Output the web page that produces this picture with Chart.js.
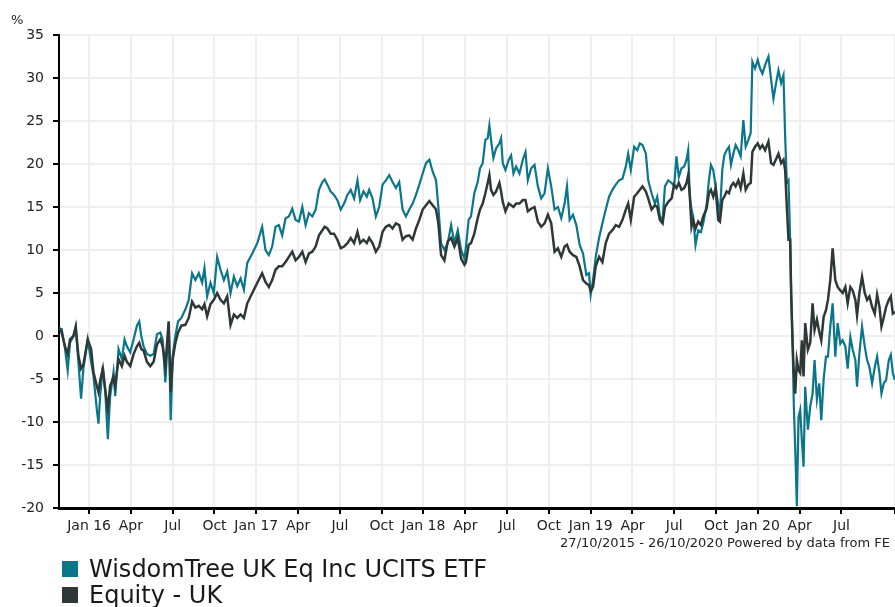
<!DOCTYPE html>
<html>
<head>
<meta charset="utf-8">
<title>WisdomTree UK Eq Inc UCITS ETF vs Equity - UK</title>
<script src="https://cdn.jsdelivr.net/npm/chart.js@4/dist/chart.umd.min.js"></script>
<style>
    html, body { margin: 0; padding: 0; background: #fff; }
    #wrap { width: 895px; height: 607px; }
</style>
</head>
<body>
<div id="wrap"><canvas id="perf-chart" width="895" height="607"></canvas></div>
<script>
// ===== Data (x = decimal year, y = cumulative % return) =====
const dates = [
    2015.820, 2015.836, 2015.856, 2015.872, 2015.886, 2015.906, 2015.920, 2015.936, 2015.952, 2015.966,
    2015.992, 2016.012, 2016.026, 2016.046, 2016.056, 2016.066, 2016.082, 2016.096, 2016.112, 2016.126,
    2016.146, 2016.156, 2016.176, 2016.196, 2016.212, 2016.226, 2016.246, 2016.266, 2016.286, 2016.300,
    2016.312, 2016.326, 2016.346, 2016.366, 2016.386, 2016.406, 2016.426, 2016.440, 2016.456, 2016.476,
    2016.488, 2016.500, 2016.516, 2016.532, 2016.552, 2016.576, 2016.596, 2016.616, 2016.636, 2016.656,
    2016.676, 2016.690, 2016.706, 2016.726, 2016.746, 2016.766, 2016.786, 2016.806, 2016.826, 2016.846,
    2016.866, 2016.886, 2016.906, 2016.926, 2016.946, 2016.976, 2017.006,
    2017.035, 2017.055, 2017.075, 2017.095, 2017.115, 2017.135, 2017.155, 2017.175, 2017.195, 2017.215,
    2017.235, 2017.255, 2017.275, 2017.295, 2017.315, 2017.335, 2017.355, 2017.375, 2017.395, 2017.409,
    2017.425, 2017.445, 2017.465, 2017.485, 2017.505, 2017.525, 2017.545, 2017.565, 2017.585, 2017.605,
    2017.621, 2017.641, 2017.661, 2017.675, 2017.695, 2017.715, 2017.735, 2017.755, 2017.775, 2017.795,
    2017.815, 2017.835, 2017.855, 2017.875, 2017.895, 2017.915, 2017.935, 2017.955, 2017.975, 2017.995,
    2018.015, 2018.035, 2018.055, 2018.075, 2018.089, 2018.105, 2018.125, 2018.145, 2018.165, 2018.185,
    2018.205, 2018.225, 2018.245,
    2018.254, 2018.270, 2018.284, 2018.304, 2018.324, 2018.338, 2018.354, 2018.370, 2018.384, 2018.394,
    2018.404, 2018.418, 2018.434, 2018.454, 2018.464, 2018.474, 2018.490, 2018.510, 2018.524, 2018.538,
    2018.554, 2018.574, 2018.594, 2018.610, 2018.624, 2018.644, 2018.664, 2018.684, 2018.704, 2018.724,
    2018.744, 2018.764, 2018.784, 2018.804, 2018.824, 2018.844, 2018.858, 2018.874, 2018.894, 2018.914,
    2018.934, 2018.954, 2018.974, 2018.990, 2019.000, 2019.014, 2019.030, 2019.050, 2019.070, 2019.090,
    2019.110, 2019.130, 2019.150, 2019.170, 2019.190, 2019.210, 2019.224, 2019.240, 2019.260, 2019.278,
    2019.294, 2019.310, 2019.330, 2019.344, 2019.364, 2019.384, 2019.398, 2019.414, 2019.430, 2019.444,
    2019.464, 2019.484,
    2019.499, 2019.513, 2019.527, 2019.543, 2019.559, 2019.573, 2019.583, 2019.593, 2019.603, 2019.613,
    2019.627, 2019.643, 2019.659, 2019.673, 2019.693, 2019.707, 2019.719, 2019.733, 2019.747, 2019.763,
    2019.773, 2019.787, 2019.799, 2019.813, 2019.827, 2019.839, 2019.853, 2019.867, 2019.883, 2019.897,
    2019.913, 2019.927, 2019.943, 2019.957, 2019.967, 2019.983, 2019.999, 2020.013, 2020.027, 2020.043,
    2020.063, 2020.079, 2020.093, 2020.107, 2020.123, 2020.139, 2020.153, 2020.163, 2020.173, 2020.183,
    2020.193, 2020.199, 2020.207, 2020.215, 2020.223, 2020.233, 2020.243, 2020.253, 2020.263, 2020.273,
    2020.283, 2020.299, 2020.313, 2020.327, 2020.339, 2020.353, 2020.367, 2020.379, 2020.393, 2020.407,
    2020.419, 2020.433, 2020.447, 2020.463, 2020.477, 2020.493, 2020.507, 2020.523, 2020.537, 2020.553,
    2020.567, 2020.583, 2020.593, 2020.607, 2020.623, 2020.639, 2020.653, 2020.667, 2020.683, 2020.699,
    2020.713, 2020.727, 2020.739, 2020.753, 2020.767, 2020.783, 2020.795, 2020.807, 2020.819
];

const etfValues = [
    0.8, 0.8, -1.5, -4, -0.8, 0, 1, -3, -7.3, -3.8,
    -0.4, -3, -4.6, -8.5, -10.2, -7, -3.6, -6.2, -12, -7,
    -4.2, -7, -1.5, -2.7, -0.4, -1.2, -1.9, -0.4, 1.2, 1.7,
    0, -1.2, -2.1, -2.3, -2.1, 0.2, 0.4, -0.4, -5.4, 1.5,
    -9.8, -2.3, 0, 1.7, 2.1, 3.1, 4.2, 7.3, 6.5, 7.3,
    6.2, 7.9, 4.6, 6.2, 5, 9.2, 7.7, 6.5, 7.5, 5,
    6.9, 5.8, 6.7, 5.4, 8.5, 9.6, 10.8,
    12.7, 10, 9.4, 10.4, 12.7, 12.9, 11.7, 13.7, 13.9, 14.8,
    13.5, 13.3, 15, 12.9, 14.3, 13.9, 14.7, 17, 17.9, 18.2,
    17.6, 16.8, 16.4, 15.8, 14.7, 15.4, 16.4, 17, 16, 18.1,
    15.8, 16.8, 16.2, 17, 16, 13.9, 15, 17.6, 18.1, 18.7,
    17.9, 17.2, 17.9, 14.7, 13.9, 14.7, 15.4, 16.4, 17.6, 18.9,
    20.1, 20.5, 19.1, 18.1, 15, 10.8, 10, 10.8, 12.9, 10.8,
    12.3, 10, 9,
    10.4, 13.5, 13.9, 16.6, 17.9, 19.5, 20.1, 22.8, 23, 24.5,
    22.8, 20.7, 21.8, 22.4, 23, 20.1, 19.3, 20.5, 21, 18.9,
    19.7, 18.9, 20.5, 21.4, 18.1, 19.5, 19.9, 17.4, 16, 16.6,
    19.5, 17.4, 14.7, 15, 13.7, 15.4, 17.4, 13.5, 14.1, 12.9,
    10.6, 9.6, 7.1, 7.3, 4.8, 6.5, 9.2, 11.4, 13.1, 14.7,
    16.2, 17, 17.6, 18.1, 18.3, 19.7, 21.2, 19.3, 22, 21.6,
    22.4, 22.2, 21.2, 18.1, 16.6, 15.4, 16.2, 13.9, 13.5, 17.4,
    18.1, 17.8,
    17.4, 20.9, 18.5, 19.5, 19.7, 20.5, 21.6, 16.2, 14.7, 13.9,
    10.6, 12.3, 12.1, 13.1, 15.2, 18.1, 19.9, 19.3, 17.4, 15.2,
    14.3, 19.3, 21, 21.6, 22, 19.9, 21.2, 22.2, 21.6, 20.9,
    25.1, 22, 22.8, 23.6, 31.9, 31.1, 32.1, 31.1, 30.5, 31.5,
    32.5, 29.8, 27.6, 29.2, 30.9, 29.4, 30.3, 23.2, 17.8, 18.1,
    11.2, 5, -0.5, -8.2, -12.9, -19.8, -9.4, -8.6, -12.1, -15.2,
    -5.9, -10.9, -8.2, -6.7, -2.8, -7.4, -5.5, -9.8, -5.1, -2.4,
    -2.4, 1.1, 3.8, -2.4, 1.5, -0.9, -0.5, -1.2, -3.8, -0.1,
    -1.6, -2.8, -5.9, -2, 1.1, -1.2, -2.8, -3.6, -5.5, -3.6,
    -2.4, -4.3, -6.7, -5.5, -5.1, -2.8, -2.2, -4.3, -5.1
];

const sectorValues = [
    1, 0.4, -1.2, -2.1, -0.4, 0, 1.1, -2.3, -3.8, -3.3,
    -0.4, -1.5, -4.2, -5.8, -6.5, -5.2, -3.8, -6.2, -8.5, -5.8,
    -4.8, -5.8, -2.7, -3.5, -2.3, -3, -3.5, -2.1, -1.2, -0.8,
    -1.5, -1.7, -3, -3.5, -3, -1, -0.4, -1.2, -3.5, 1.7,
    -6.5, -2.7, -0.8, 0.4, 1.2, 1.3, 2.1, 4, 3.3, 3.5,
    3.1, 3.7, 2.3, 3.7, 4.2, 5, 4.2, 3.8, 4.6, 1.3,
    2.5, 2.1, 2.5, 2.1, 3.8, 5, 6.2,
    7.3, 6.3, 5.7, 6.5, 7.7, 8.1, 8.1, 8.6, 9.2, 9.8,
    8.8, 9.2, 9.8, 8.6, 9.6, 9.8, 10.4, 11.7, 12.3, 12.7,
    12.5, 11.9, 11.9, 11.2, 10.2, 10.4, 10.8, 11.4, 10.8, 12.1,
    10.8, 11.2, 10.8, 11.4, 10.8, 9.8, 10.4, 12.1, 12.7, 12.9,
    12.5, 13.1, 12.9, 11.2, 11.6, 11.7, 11.2, 12.5, 13.5, 14.7,
    15.2, 15.7, 15.2, 14.7, 13.1, 9.4, 8.8, 11, 11.4, 10.4,
    11.4, 9, 8.3,
    8.6, 10.6, 10.8, 11.9, 13.7, 14.7, 15.4, 16.6, 17.8, 18.7,
    17, 16.4, 16.8, 17.8, 16.8, 15.6, 14.5, 15.4, 15.2, 15,
    15.4, 15.4, 15.8, 15.8, 14.5, 14.8, 15, 13.3, 12.7, 13.1,
    14.1, 13.1, 9.8, 10.2, 9.2, 10.4, 10.6, 9.8, 9.4, 9.2,
    8.1, 6.5, 6.1, 5.9, 5.2, 5.7, 8.1, 9.2, 8.6, 10.8,
    11.9, 12.3, 12.9, 12.7, 13.5, 14.7, 15.4, 13.5, 16.2, 16.6,
    17, 17.4, 16.8, 16, 14.7, 15.2, 15, 13.5, 13.1, 15,
    15.6, 16,
    17.6, 17.2, 17.8, 17, 17.2, 17.8, 18.7, 16.2, 12.7, 13.5,
    12.5, 13.3, 12.9, 13.9, 14.8, 16.6, 17, 16.2, 17.2, 13.5,
    13.3, 15.8, 16.2, 16.8, 16.6, 17.4, 17.8, 17.4, 18.1, 17.2,
    18.9, 17, 17.6, 17.8, 21.4, 22, 22.4, 21.8, 22.2, 21.6,
    22.6, 20.1, 19.9, 20.5, 21.2, 20.1, 20.5, 19.3, 15, 11.2,
    11.2, 5, -0.5, -4.3, -6.7, -2.8, -4, -4.3, -0.5, -4.7,
    1.5, -1.6, -0.8, 3.8, 0.7, 1.9, 0.5, -0.5, 2.2, 3,
    4.2, 6.5, 10.2, 6.5, 5.7, 5.3, 5, 5.7, 3.8, 5.7,
    5.3, 4.2, 2.4, 5, 6.9, 5, 4.2, 4.6, 3.4, 2.6,
    4.8, 3.4, 1.1, 2.2, 3.4, 4.2, 4.6, 2.6, 2.8
];

const seriesNames = ['WisdomTree UK Eq Inc UCITS ETF', 'Equity - UK'];
const seriesColors = ['#0b7689', '#2e3937'];

// quarterly ticks; the last one marks the end of the period and has no label
const tickPositions = [
    2016, 2016.25, 2016.5, 2016.75,
    2017, 2017.25, 2017.5, 2017.75,
    2018, 2018.25, 2018.5, 2018.75,
    2019, 2019.25, 2019.5, 2019.75,
    2020, 2020.25, 2020.5, 2020.82
];
const tickLabels = [
    'Jan 16', 'Apr', 'Jul', 'Oct',
    'Jan 17', 'Apr', 'Jul', 'Oct',
    'Jan 18', 'Apr', 'Jul', 'Oct',
    'Jan 19', 'Apr', 'Jul', 'Oct',
    'Jan 20', 'Apr', 'Jul', ''
];

const periodStart = 2015.82;
const periodEnd = 2020.82;
const yUnit = '%';
const footerText = '27/10/2015 - 26/10/2020 Powered by data from FE';

const FONT = '"DejaVu Sans", Verdana, sans-serif';

// ===== Extras: unit label, footer, legend =====
const extrasPlugin = {
    id: 'feExtras',
    afterDraw(chart) {
        const { ctx, chartArea } = chart;
        ctx.save();
        ctx.fillStyle = '#222';
        ctx.textBaseline = 'alphabetic';

        ctx.font = `13px ${FONT}`;
        ctx.textAlign = 'left';
        ctx.fillText(yUnit, 11, 24);

        ctx.textAlign = 'right';
        ctx.fillText(footerText, chartArea.right - 5, 547);

        // legend, one entry per row
        ctx.textAlign = 'left';
        ctx.font = `24px ${FONT}`;
        chart.data.datasets.forEach((ds, i) => {
            const top = 561 + i * 26;
            ctx.fillStyle = ds.borderColor;
            ctx.fillRect(62, top, 16, 16);
            ctx.fillStyle = '#1a1a1a';
            ctx.fillText(ds.label, 89, top + 16);
        });
        ctx.restore();
    }
};

// keep the plot flush with the right edge (no padding for the unlabeled end tick)
const noRightPad = scale => {
    scale.height = 30;
    scale.paddingRight = 0;
};

const toPoints = values => dates.map((d, i) => ({ x: d, y: values[i] }));

const ctx = document.getElementById('perf-chart').getContext('2d');
new Chart(ctx, {
    type: 'line',
    data: {
        datasets: [
            {
                label: seriesNames[0],
                data: toPoints(etfValues),
                borderColor: seriesColors[0],
                backgroundColor: seriesColors[0],
                borderWidth: 2.2,
                pointRadius: 0,
                tension: 0,
                fill: false,
                order: 1
            },
            {
                label: seriesNames[1],
                data: toPoints(sectorValues),
                borderColor: seriesColors[1],
                backgroundColor: seriesColors[1],
                borderWidth: 2.5,
                pointRadius: 0,
                tension: 0,
                fill: false,
                order: 0
            }
        ]
    },
    options: {
        responsive: false,
        animation: false,
        devicePixelRatio: 1,
        layout: { padding: { top: 35, right: 0, bottom: 69, left: 0 } },
        plugins: {
            legend: { display: false },
            tooltip: { enabled: false }
        },
        scales: {
            x: {
                type: 'linear',
                min: periodStart,
                max: periodEnd,
                afterBuildTicks: scale => {
                    scale.ticks = tickPositions.map(v => ({ value: v }));
                },
                afterFit: noRightPad,
                grid: {
                    color: '#efefef',
                    lineWidth: 2,
                    tickColor: '#000',
                    tickWidth: 2,
                    tickLength: 6
                },
                border: { color: '#000', width: 3 },
                ticks: {
                    autoSkip: false,
                    maxRotation: 0,
                    padding: 4,
                    color: '#222',
                    font: { family: FONT, size: 14 },
                    callback: (value, index) => tickLabels[index] ?? ''
                }
            },
            y: {
                min: -20,
                max: 35,
                afterFit: scale => { scale.width = 59; },
                grid: {
                    color: '#efefef',
                    lineWidth: 2,
                    tickColor: '#000',
                    tickWidth: 2,
                    tickLength: 6
                },
                border: { color: '#000', width: 2 },
                ticks: {
                    stepSize: 5,
                    padding: 9,
                    color: '#222',
                    font: { family: FONT, size: 14 }
                }
            }
        }
    },
    plugins: [extrasPlugin]
});
</script>
</body>
</html>
